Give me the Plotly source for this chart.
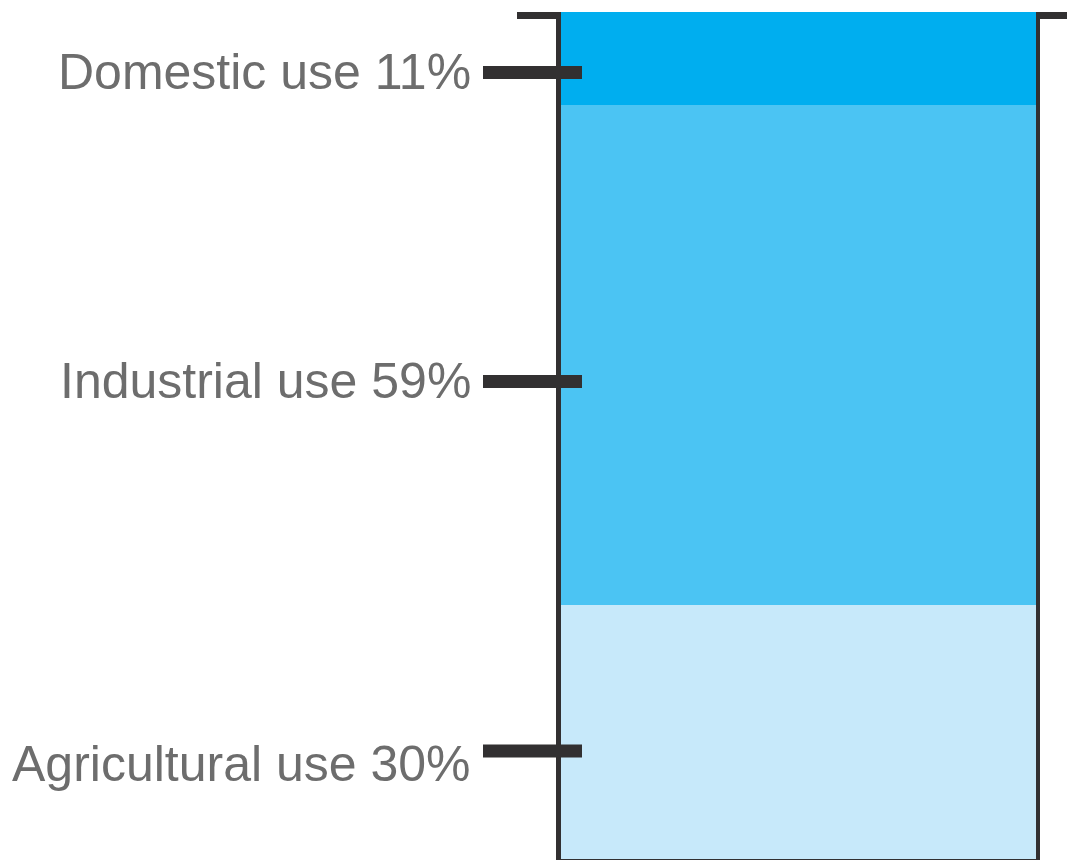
import plotly.graph_objects as go

# Data
categories = ["Agricultural use", "Industrial use", "Domestic use"]
shares = [30, 59, 11]
colors = ["#C7E9FA", "#4BC4F3", "#00AEEF"]
label_texts = [f"{c} {v}%" for c, v in zip(categories, shares)]

# Layout (pixel geometry)
W, H = 1067, 860
PL, PR, PT, PB = 561, 1036, 12, 859  # plot area edges in px
pw, ph = PR - PL, PB - PT

def px_x(p):
    return (p - PL) / pw

def px_y(p):
    return (PB - p) / ph

WALL = "#323031"
tick_centers_px = [751, 381.5, 72.5]
text_centers_px = [764, 381, 72]

fig = go.Figure()
for cat, v, col in zip(categories, shares, colors):
    fig.add_trace(go.Bar(x=["Water"], y=[v], name=cat, marker=dict(color=col, line=dict(width=0)),
                         hoverinfo="name+y"))

shapes = []
def rect(x0, x1, y0, y1, color=WALL):
    shapes.append(dict(type="rect", xref="paper", yref="paper",
                       x0=px_x(x0), x1=px_x(x1), y0=px_y(y1), y1=px_y(y0),
                       fillcolor=color, line=dict(width=0), layer="above"))

rect(556, 561, 12, 862)      # left wall
rect(1036, 1040, 12, 862)    # right wall
rect(517, 561, 12, 19)       # left lip
rect(1036, 1067, 12, 19)     # right lip
rect(556, 1040, 859, 861)    # bottom
for yc in tick_centers_px:
    rect(483, 582, yc - 6.5, yc + 6.5)

annotations = []
for txt, yc in zip(label_texts, text_centers_px):
    annotations.append(dict(text=txt, xref="paper", yref="paper", x=px_x(473), y=px_y(yc),
                            xanchor="right", yanchor="middle", showarrow=False,
                            font=dict(family="Liberation Sans, Arial, sans-serif",
                                      size=50, color="#6d6d6d")))

fig.update_layout(
    width=W, height=H, barmode="stack", bargap=0, showlegend=False,
    margin=dict(l=PL, r=W - PR, t=PT, b=H - PB, pad=0),
    paper_bgcolor="white", plot_bgcolor="white",
    xaxis=dict(visible=False, range=[-0.5, 0.5], fixedrange=True),
    yaxis=dict(visible=False, range=[0, 100], fixedrange=True),
    shapes=shapes, annotations=annotations,
)
fig.write_html("out.html", config={"displayModeBar": False},
               post_script="document.body.style.margin='0px';document.body.style.overflow='hidden';")
